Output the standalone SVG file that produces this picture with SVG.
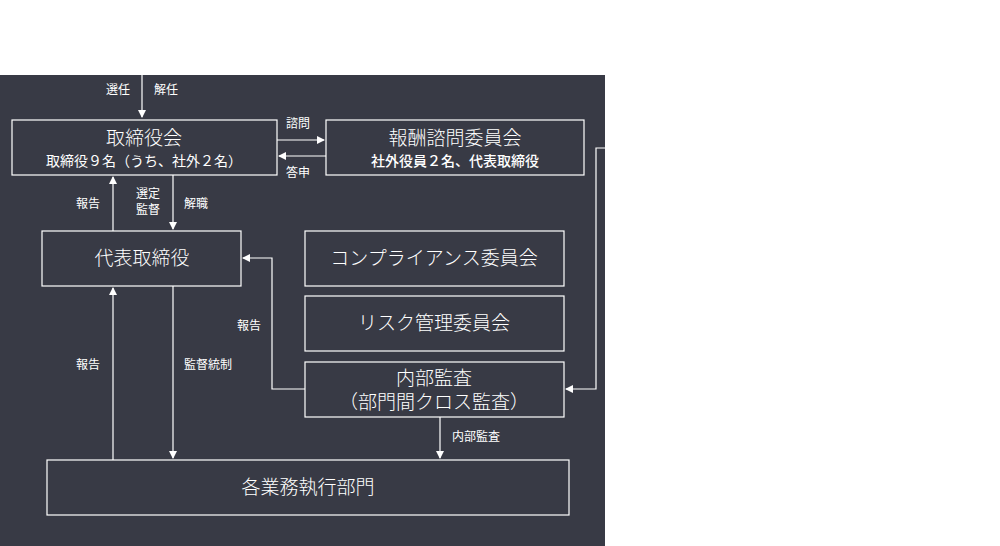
<svg xmlns="http://www.w3.org/2000/svg" width="1000" height="546" viewBox="0 0 1000 546">
<style>
.b{fill:none;stroke:#fff;stroke-width:1.2}
.c{fill:none;stroke:#fff;stroke-width:1.2}
text{fill:#fff;font-family:"Noto Sans CJK JP","Noto Sans",sans-serif;text-anchor:middle}
.t{font-size:19px;font-weight:300}.s{font-size:14px}.l{font-size:12px}
</style>
<defs><marker id="a" markerWidth="8" markerHeight="8" refX="7" refY="4" orient="auto" markerUnits="userSpaceOnUse"><path d="M0,0L8,4L0,8z" fill="#fff"/></marker></defs>
<rect width="1000" height="546" fill="#fff"/>
<rect x="0" y="75" width="605" height="471" fill="#383a45"/>
<g id="n1"><rect class="b" x="12" y="120" width="265" height="55"/><text class="t" x="144" y="145">取締役会</text><text class="s" x="144" y="166">取締役９名（うち、社外２名）</text></g>
<g id="n2"><rect class="b" x="326" y="120" width="258" height="55"/><text class="t" x="455" y="145">報酬諮問委員会</text><text class="s" x="455" y="166" font-weight="500">社外役員２名、代表取締役</text></g>
<g id="n3"><rect class="b" x="42" y="231" width="199" height="55"/><text class="t" x="142" y="265">代表取締役</text></g>
<g id="n4"><rect class="b" x="305" y="231" width="259" height="55"/><text class="t" x="434" y="265">コンプライアンス委員会</text></g>
<g id="n5"><rect class="b" x="305" y="296" width="259" height="55"/><text class="t" x="434" y="330">リスク管理委員会</text></g>
<g id="n6"><rect class="b" x="305" y="362" width="259" height="55"/><text class="t" x="434" y="385" font-size="18">内部監査</text><text class="t" x="434" y="409" font-size="18">（部門間クロス監査）</text></g>
<g id="n7"><rect class="b" x="47" y="460" width="522" height="55"/><text class="t" x="308" y="494">各業務執行部門</text></g>
<g id="conn">
<path class="c" d="M142,75V117" marker-end="url(#a)"/>
<path class="c" d="M277,140H324" marker-end="url(#a)"/>
<path class="c" d="M326,156H279" marker-end="url(#a)"/>
<path class="c" d="M113,231V177" marker-end="url(#a)"/>
<path class="c" d="M173,175V229" marker-end="url(#a)"/>
<path class="c" d="M305,389H272V258H243" marker-end="url(#a)"/>
<path class="c" d="M113,460V288" marker-end="url(#a)"/>
<path class="c" d="M173,286V458" marker-end="url(#a)"/>
<path class="c" d="M440,417V458" marker-end="url(#a)"/>
<path class="c" d="M605,148H596V389H566" marker-end="url(#a)"/>
</g>
<g>
<text class="l" x="118" y="94">選任</text><text class="l" x="166" y="94">解任</text>
<text class="l" x="298" y="128">諮問</text><text class="l" x="298" y="177">答申</text>
<text class="l" x="88" y="208">報告</text><text class="l" x="148" y="198">選定</text><text class="l" x="148" y="214">監督</text><text class="l" x="196" y="208">解職</text>
<text class="l" x="249" y="330">報告</text>
<text class="l" x="88" y="369">報告</text><text class="l" x="208" y="369">監督統制</text>
<text class="l" x="476" y="441">内部監査</text>
</g>
</svg>
